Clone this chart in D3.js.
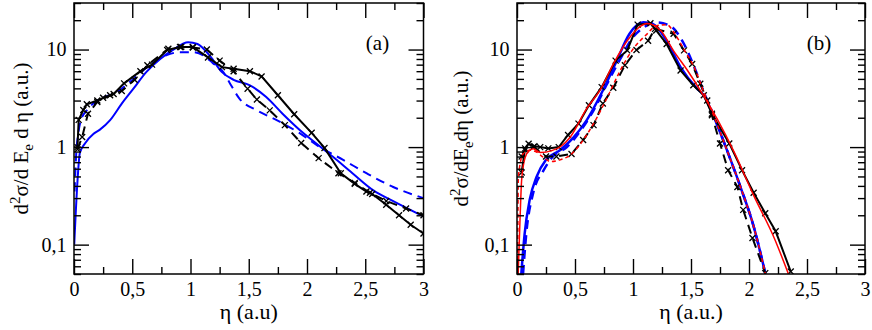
<!DOCTYPE html>
<html>
<head>
<meta charset="utf-8">
<script src="https://cdn.jsdelivr.net/npm/d3@7"></script>
<style>
    body { margin: 0; background: #fff; }
    svg { display: block; }
</style>
</head>
<body>
<svg id="chart" width="872" height="330"></svg>
<script>
// tick values
var xMajor = [0, 0.5, 1, 1.5, 2, 2.5, 3];
var xMinor = [0.25, 0.75, 1.25, 1.75, 2.25, 2.75];
var yMajor = [0.1, 1, 10];
var yMinor = [0.05, 0.06, 0.07, 0.08, 0.09, 0.2, 0.3, 0.4, 0.5, 0.6, 0.7, 0.8, 0.9,
              2, 3, 4, 5, 6, 7, 8, 9, 20, 30];

// panel (a) series, [eta, value]
var aBlackSolid = [[0.03, 1.0], [0.04, 1.9], [0.08, 2.4], [0.11, 2.75], [0.2, 3.0], [0.25, 3.2],
    [0.34, 3.5], [0.43, 4.5], [0.57, 6.0], [0.67, 7.0], [0.8, 9.9], [0.91, 10.6], [1.02, 10.6],
    [1.15, 8.3], [1.27, 6.6], [1.37, 6.35], [1.51, 6.0], [1.61, 5.3], [1.75, 3.4], [1.89, 2.17],
    [2.04, 1.4], [2.15, 0.98], [2.29, 0.54], [2.41, 0.42], [2.51, 0.35], [2.56, 0.33],
    [2.68, 0.256], [2.79, 0.2], [2.89, 0.16], [3.0, 0.13]];
var aBlackDashed = [[0.03, 0.95], [0.07, 1.27], [0.12, 2.2], [0.2, 2.9], [0.31, 3.4], [0.41, 3.76],
    [0.52, 4.9], [0.63, 6.9], [0.81, 10.2], [0.92, 10.6], [1.02, 10.5], [1.14, 10.0], [1.25, 7.7],
    [1.37, 6.0], [1.49, 3.97], [1.57, 3.07], [1.68, 2.38], [1.81, 1.68], [1.95, 1.1], [2.1, 0.77],
    [2.27, 0.54], [2.41, 0.43], [2.54, 0.34], [2.68, 0.28], [2.85, 0.235], [3.0, 0.2]];
var aBlueSolid = [[0.002, 0.1], [0.03, 0.45], [0.05, 0.87], [0.094, 1.09], [0.166, 1.36],
    [0.22, 1.5], [0.31, 1.89], [0.41, 2.79], [0.51, 3.97], [0.62, 5.87], [0.74, 8.0], [0.85, 9.9],
    [0.98, 11.9], [1.06, 11.4], [1.17, 8.5], [1.27, 5.87], [1.37, 4.9], [1.51, 4.3], [1.65, 3.26],
    [1.79, 2.2], [1.94, 1.49], [2.08, 1.09], [2.22, 0.8], [2.39, 0.54], [2.57, 0.36], [2.74, 0.28],
    [3.0, 0.195]];
var aBlueDashed = [[0.005, 0.35], [0.02, 0.9], [0.037, 1.38], [0.06, 1.9], [0.11, 2.38], [0.2, 3.0],
    [0.37, 3.67], [0.51, 5.0], [0.65, 6.9], [0.79, 8.7], [0.91, 9.4], [1.02, 9.4], [1.11, 8.7],
    [1.19, 7.3], [1.28, 5.9], [1.34, 4.47], [1.42, 3.14], [1.57, 2.38], [1.74, 1.89], [1.94, 1.38],
    [2.11, 1.0], [2.31, 0.74], [2.51, 0.54], [2.74, 0.39], [3.0, 0.3]];

// panel (b) series
var bBlackSolid = [[0.04, 0.55], [0.07, 0.97], [0.1, 1.08], [0.15, 1.02], [0.2, 1.0], [0.27, 0.97],
    [0.36, 1.0], [0.44, 1.33], [0.53, 1.74], [0.62, 2.68], [0.73, 4.12], [0.85, 7.7], [0.95, 9.8],
    [1.04, 18.0], [1.15, 18.6], [1.2, 15.7], [1.29, 11.4], [1.41, 6.1], [1.52, 4.3], [1.61, 3.4],
    [1.68, 2.2], [1.83, 1.09], [1.94, 0.58], [2.04, 0.34], [2.14, 0.21], [2.23, 0.137], [2.36, 0.053]];
var bBlackDashed = [[0.04, 0.8], [0.07, 0.93], [0.14, 1.0], [0.25, 0.8], [0.34, 0.8], [0.47, 0.85],
    [0.57, 1.18], [0.66, 1.68], [0.74, 2.8], [0.83, 4.06], [0.93, 6.9], [1.03, 9.9], [1.13, 12.3],
    [1.19, 16.3], [1.35, 14.5], [1.44, 9.8], [1.51, 7.1], [1.58, 4.46], [1.64, 3.0], [1.68, 2.12],
    [1.75, 1.09], [1.82, 0.58], [1.9, 0.39], [1.95, 0.227], [2.03, 0.117], [2.14, 0.051]];
var bBlueSolid = [[0.037, 0.05], [0.066, 0.13], [0.11, 0.29], [0.17, 0.5], [0.25, 0.74], [0.37, 0.93],
    [0.48, 1.23], [0.6, 1.88], [0.74, 3.8], [0.86, 7.7], [0.97, 14.5], [1.09, 19.0], [1.17, 18.3],
    [1.29, 12.3], [1.41, 6.6], [1.55, 4.0], [1.61, 3.4], [1.7, 2.0], [1.81, 0.93], [1.93, 0.38],
    [2.04, 0.154], [2.14, 0.051]];
var bBlueDashed = [[0.052, 0.05], [0.08, 0.13], [0.14, 0.34], [0.23, 0.58], [0.31, 0.8], [0.43, 1.0],
    [0.54, 1.43], [0.66, 2.38], [0.77, 4.3], [0.89, 8.0], [1.0, 13.4], [1.09, 16.8], [1.2, 19.0],
    [1.32, 17.5], [1.44, 11.4], [1.54, 6.1], [1.61, 3.67], [1.7, 2.04], [1.81, 0.93], [1.93, 0.38],
    [2.04, 0.154], [2.14, 0.051]];
var bRedSolid = [[0.01, 0.05], [0.026, 0.18], [0.04, 0.46], [0.07, 0.78], [0.11, 0.93], [0.14, 0.96],
    [0.2, 0.88], [0.3, 0.92], [0.38, 1.02], [0.46, 1.27], [0.6, 2.48], [0.72, 3.9], [0.83, 7.1],
    [0.95, 12.3], [1.07, 17.5], [1.12, 18.5], [1.24, 15.6], [1.35, 9.7], [1.47, 6.1], [1.6, 3.5],
    [1.73, 1.9], [1.87, 0.9], [2.04, 0.32], [2.22, 0.115], [2.34, 0.05]];
var bRedDashed = [[0.005, 0.05], [0.012, 0.5], [0.055, 0.86], [0.11, 0.93], [0.16, 0.9], [0.23, 0.78],
    [0.29, 0.71], [0.37, 0.74], [0.46, 0.83], [0.55, 1.09], [0.66, 1.74], [0.78, 3.26], [0.89, 6.1],
    [1.0, 10.1], [1.12, 14.4], [1.2, 17.5], [1.29, 18.0], [1.36, 14.5], [1.44, 10.0], [1.54, 6.1],
    [1.61, 3.67], [1.7, 2.04], [1.81, 0.93], [1.93, 0.38], [2.04, 0.154], [2.14, 0.051]];

var svg = d3.select('#chart');
var plotTop = 3, plotBottom = 274;
var fontName = '"Liberation Serif"';

function fmt(d) {
    return String(d).replace('.', ',');
}

function drawPanel(left, right, tag, xLabel, yLabelParts, yLabelX, series) {
    var x = d3.scaleLinear().domain([0, 3]).range([left, right]);
    var y = d3.scaleLog().domain([0.05, 30]).range([plotBottom, plotTop]);

    var clipId = 'clip-' + tag;
    svg.append('clipPath').attr('id', clipId)
        .append('rect')
        .attr('x', left).attr('y', plotTop)
        .attr('width', right - left).attr('height', plotBottom - plotTop);

    var plot = svg.append('g').attr('clip-path', 'url(#' + clipId + ')');

    series.forEach(function(s) {
        var line = d3.line()
            .x(function(d) { return x(d[0]); })
            .y(function(d) { return y(d[1]); })
            .curve(s.smooth ? d3.curveMonotoneX : d3.curveLinear);
        plot.append('path')
            .datum(s.data)
            .attr('fill', 'none')
            .attr('stroke', s.color)
            .attr('stroke-width', s.width)
            .attr('stroke-dasharray', s.dash || null)
            .attr('d', line);
        if(s.markers) {
            plot.selectAll(null)
                .data(s.data)
                .enter().append('path')
                .attr('transform', function(d) { return 'translate(' + x(d[0]) + ',' + y(d[1]) + ')'; })
                .attr('d', 'M-3,-3L3,3M-3,3L3,-3')
                .attr('stroke', s.color)
                .attr('stroke-width', 1.3)
                .attr('fill', 'none');
        }
    });

    // axes, ticks pointing inwards
    function addAxis(gen, tx, ty) {
        var g = svg.append('g')
            .attr('transform', 'translate(' + tx + ',' + ty + ')')
            .call(gen);
        g.attr('font-family', null).attr('font-size', null);
        g.select('.domain').remove();
        g.selectAll('line').attr('stroke', '#000').attr('stroke-width', 1.4);
        g.selectAll('text')
            .style('font-family', fontName)
            .style('font-size', '20px')
            .attr('fill', '#000');
        return g;
    }

    addAxis(d3.axisBottom(x).tickValues(xMajor).tickSize(-15).tickPadding(8).tickFormat(fmt), 0, plotBottom);
    addAxis(d3.axisBottom(x).tickValues(xMinor).tickSize(-7).tickFormat(''), 0, plotBottom);
    addAxis(d3.axisTop(x).tickValues(xMajor).tickSize(-15).tickFormat(''), 0, plotTop);
    addAxis(d3.axisTop(x).tickValues(xMinor).tickSize(-7).tickFormat(''), 0, plotTop);
    addAxis(d3.axisLeft(y).tickValues(yMajor).tickSize(-15).tickPadding(7.5).tickFormat(fmt), left, 0);
    addAxis(d3.axisLeft(y).tickValues(yMinor).tickSize(-7).tickFormat(''), left, 0);
    addAxis(d3.axisRight(y).tickValues(yMajor).tickSize(-15).tickFormat(''), right, 0);
    addAxis(d3.axisRight(y).tickValues(yMinor).tickSize(-7).tickFormat(''), right, 0);

    svg.append('rect')
        .attr('x', left).attr('y', plotTop)
        .attr('width', right - left).attr('height', plotBottom - plotTop)
        .attr('fill', 'none')
        .attr('stroke', '#000')
        .attr('stroke-width', 1.5);

    svg.append('text')
        .attr('x', right - 46)
        .attr('y', 50)
        .attr('text-anchor', 'middle')
        .style('font-family', fontName)
        .style('font-size', '21px')
        .text('(' + tag + ')');

    svg.append('text')
        .attr('x', (left + right) / 2)
        .attr('y', 319)
        .attr('text-anchor', 'middle')
        .style('font-family', fontName)
        .style('font-size', '22px')
        .text(xLabel);

    var yl = svg.append('text')
        .attr('transform', 'translate(' + yLabelX + ',' + ((plotTop + plotBottom) / 2) + ') rotate(-90)')
        .attr('text-anchor', 'middle')
        .style('font-family', fontName)
        .style('font-size', '21px');
    yLabelParts.forEach(function(p) {
        var t = yl.append('tspan').text(p.t);
        if(p.dy) t.attr('dy', p.dy);
        if(p.size) t.style('font-size', p.size + 'px');
    });
}

drawPanel(74, 423.5, 'a', 'η (a.u)', [
        { t: 'd' }, { t: '2', dy: -8, size: 15 }, { t: 'σ/d E', dy: 8 },
        { t: 'e', dy: 5, size: 15 }, { t: ' d η (a.u.)', dy: -5 }
    ], 28, [
        { data: aBlueDashed, color: '#0000ff', width: 2, dash: '9,6', smooth: true },
        { data: aBlueSolid, color: '#0000ff', width: 2, smooth: true },
        { data: aBlackDashed, color: '#000', width: 2, dash: '9,6', markers: true },
        { data: aBlackSolid, color: '#000', width: 2, markers: true }
    ]);

drawPanel(517, 865, 'b', 'η (a.u.)', [
        { t: 'd' }, { t: '2', dy: -8, size: 15 }, { t: 'σ/dE', dy: 8 },
        { t: 'e', dy: 5, size: 15 }, { t: 'dη (a.u.)', dy: -5 }
    ], 468, [
        { data: bBlueDashed, color: '#0000ff', width: 2.5, dash: '9,6', smooth: true },
        { data: bBlueSolid, color: '#0000ff', width: 2.5, smooth: true },
        { data: bBlackDashed, color: '#000', width: 2, dash: '9,6', markers: true },
        { data: bBlackSolid, color: '#000', width: 2, markers: true },
        { data: bRedDashed, color: '#ff0000', width: 1.5, dash: '4,3', smooth: true },
        { data: bRedSolid, color: '#ff0000', width: 1.5, smooth: true }
    ]);
</script>
</body>
</html>
